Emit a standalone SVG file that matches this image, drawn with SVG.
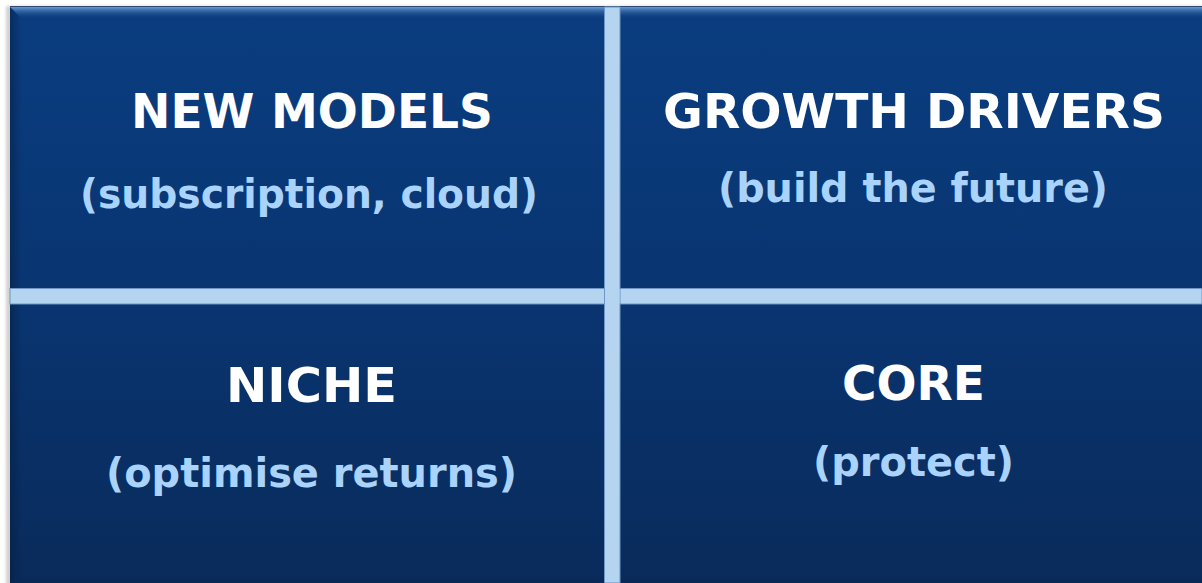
<svg xmlns="http://www.w3.org/2000/svg" width="1202" height="583" viewBox="0 0 1202 583">
  <style>
    .title { font-family: "DejaVu Sans", Verdana, sans-serif; font-weight: bold; font-size: 48.5px; fill: #ffffff; text-anchor: middle; }
    .sub { font-family: "DejaVu Sans", Verdana, sans-serif; font-weight: bold; font-size: 40px; fill: #a9d3fb; text-anchor: middle; }
    .bar { fill: #b4d4ef; stroke: #6f96c4; stroke-width: 1; }
  </style>
  <defs>
    <linearGradient id="panelFill" x1="0" y1="0" x2="0" y2="1">
      <stop offset="0" stop-color="#0a3d80"/>
      <stop offset="0.5" stop-color="#093571"/>
      <stop offset="1" stop-color="#092b5b"/>
    </linearGradient>
    <linearGradient id="bevelTop" x1="0" y1="0" x2="0" y2="1">
      <stop offset="0" stop-color="#6c9edc" stop-opacity="0.95"/>
      <stop offset="1" stop-color="#0a3d80" stop-opacity="0"/>
    </linearGradient>
    <linearGradient id="bevelLeft" x1="0" y1="0" x2="1" y2="0">
      <stop offset="0" stop-color="#041a3c" stop-opacity="0.45"/>
      <stop offset="1" stop-color="#041a3c" stop-opacity="0"/>
    </linearGradient>
    <linearGradient id="bevelBottom" x1="0" y1="0" x2="0" y2="1">
      <stop offset="0" stop-color="#041a3c" stop-opacity="0"/>
      <stop offset="1" stop-color="#041a3c" stop-opacity="0.2"/>
    </linearGradient>
    <filter id="soft" x="-5%" y="-5%" width="110%" height="110%">
      <feGaussianBlur stdDeviation="1.5"/>
    </filter>
  </defs>

  <rect width="1202" height="583" fill="#ffffff"/>

  <!-- panel with drop shadow and bevelled edges -->
  <g id="panel">
    <rect x="6" y="6" width="1200" height="580" fill="#9a9a9a" opacity="0.45" filter="url(#soft)"/>
    <rect x="10" y="7" width="1192" height="576" fill="url(#panelFill)"/>
    <rect x="10" y="6" width="1192" height="1.2" fill="#2d4a6e"/>
    <polygon points="10,7 1202,7 1202,19 22,19" fill="url(#bevelTop)"/>
    <polygon points="10,7 22,19 22,575 10,583" fill="url(#bevelLeft)"/>
    <polygon points="10,583 22,575 1202,575 1202,583" fill="url(#bevelBottom)"/>
  </g>

  <!-- dividing cross -->
  <g id="connectors">
    <rect class="bar" x="10" y="288.5" width="1192" height="15.5"/>
    <rect class="bar" x="604.5" y="7" width="15.5" height="576"/>
    <rect x="605" y="289" width="14.5" height="14.5" fill="#b4d4ef"/>
  </g>

  <g id="new-models">
    <text class="title" x="312" y="128" textLength="362" lengthAdjust="spacingAndGlyphs">NEW MODELS</text>
    <text class="sub" x="309" y="208" textLength="458" lengthAdjust="spacingAndGlyphs">(subscription, cloud)</text>
  </g>

  <g id="growth-drivers">
    <text class="title" x="914" y="128" textLength="502" lengthAdjust="spacingAndGlyphs">GROWTH DRIVERS</text>
    <text class="sub" x="913" y="202" textLength="390" lengthAdjust="spacingAndGlyphs">(build the future)</text>
  </g>

  <g id="niche">
    <text class="title" x="311.5" y="402" textLength="171" lengthAdjust="spacingAndGlyphs">NICHE</text>
    <text class="sub" x="311.5" y="487" textLength="411" lengthAdjust="spacingAndGlyphs">(optimise returns)</text>
  </g>

  <g id="core">
    <text class="title" x="913.5" y="400" textLength="143" lengthAdjust="spacingAndGlyphs">CORE</text>
    <text class="sub" x="913.5" y="476" textLength="201" lengthAdjust="spacingAndGlyphs">(protect)</text>
  </g>
</svg>
